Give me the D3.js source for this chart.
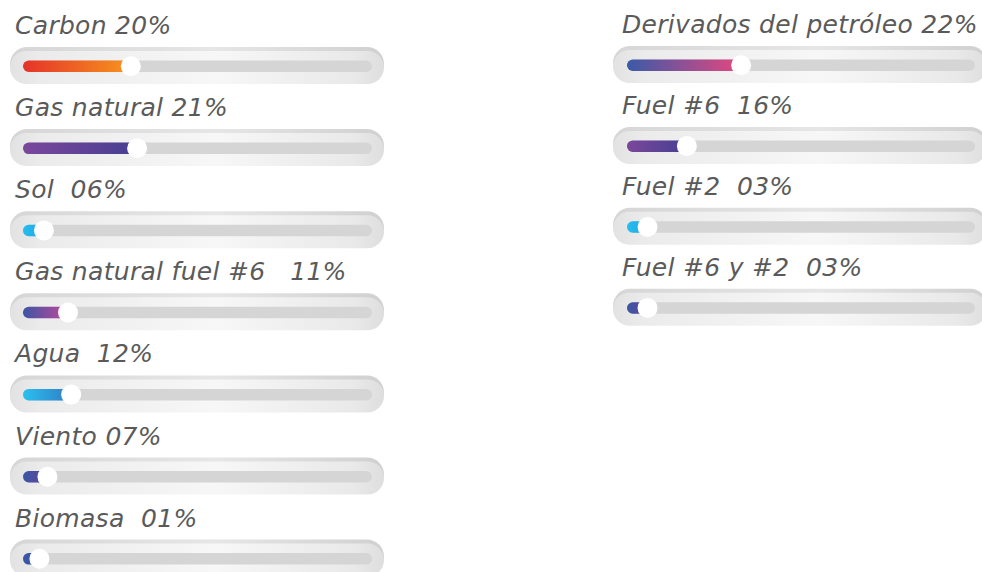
<!DOCTYPE html>
<html><head><meta charset="utf-8">
<script src="https://cdn.jsdelivr.net/npm/d3@7"></script>
<style>html,body{margin:0;padding:0;background:#fff;}svg{display:block;}</style>
</head><body>
<script>
// ---- data ----
const leftNames  = ["Carbon 20%", "Gas natural 21%", "Sol  06%", "Gas natural fuel #6   11%", "Agua  12%", "Viento 07%", "Biomasa  01%"];
const leftLevels = [30.9, 32.7, 6.0, 12.9, 13.8, 7.0, 4.7];   // bar level, % of track
const leftColors = [["#e5332a","#f7941d"],["#7b479b","#463f92"],["#27bdf0","#1fa6e0"],["#3d55a5","#c2479b"],["#2bc0f0","#2f7cc4"],["#3c55a5","#5f449b"],["#3b55a6","#3b55a6"]];

const rightNames  = ["Derivados del petróleo 22%", "Fuel #6  16%", "Fuel #2  03%", "Fuel #6 y #2  03%"];
const rightLevels = [32.8, 17.2, 5.9, 5.9];
const rightColors = [["#3a5aa8","#e5477f"],["#7b479b","#463f92"],["#27bdf0","#1fa6e0"],["#3c55a5","#5f449b"]];

const W = 982, H = 572;
const svg = d3.select("body").append("svg").attr("width", W).attr("height", H);
const defs = svg.append("defs");

const pillGrad = defs.append("linearGradient").attr("id","pillBody").attr("x1","0").attr("x2","1").attr("y1","0").attr("y2","0");
[["0%","#e2e2e2"],["8%","#ebebeb"],["55%","#f7f7f7"],["92%","#e9e9e9"],["100%","#dedede"]].forEach(s=>pillGrad.append("stop").attr("offset",s[0]).attr("stop-color",s[1]));
const rimGrad = defs.append("linearGradient").attr("id","pillRim").attr("x1","0").attr("x2","1").attr("y1","0").attr("y2","0");
[["0%","#d6d6d6"],["55%","#e6e6e6"],["100%","#d0d0d0"]].forEach(s=>rimGrad.append("stop").attr("offset",s[0]).attr("stop-color",s[1]));

function column(names, levels, colors, cfg, id) {
  const x = d3.scaleLinear().domain([0, 100]).range([cfg.t0, cfg.t1]);
  const y = d3.scalePoint().domain(d3.range(names.length)).range([cfg.y0, cfg.y0 + cfg.step * (names.length - 1)]);
  const data = names.map((n, i) => ({name: n, level: levels[i], colors: colors[i], i}));

  data.forEach(d => {
    const g = defs.append("linearGradient").attr("id", id + d.i).attr("gradientUnits","userSpaceOnUse")
      .attr("x1", x(0)).attr("x2", x(d.level)).attr("y1",0).attr("y2",0);
    g.append("stop").attr("offset","0%").attr("stop-color", d.colors[0]);
    g.append("stop").attr("offset","100%").attr("stop-color", d.colors[1]);
  });

  const row = svg.append("g").selectAll("g").data(data).join("g")
    .attr("transform", d => `translate(0,${y(d.i)})`);

  row.append("text").attr("x", cfg.lx).attr("y", -32)
    .attr("font-family", "'DejaVu Sans', sans-serif").attr("font-style","italic")
    .attr("font-size", 25).attr("letter-spacing", 0.3).attr("fill", "#5a5a5a")
    .attr("xml:space","preserve").style("white-space","pre")
    .text(d => d.name);

  // outer pill: rim + body
  row.append("rect").attr("x", cfg.o0).attr("y", -19).attr("width", cfg.o1 - cfg.o0).attr("height", 34)
    .attr("rx", 17).attr("fill", "url(#pillRim)");
  row.append("rect").attr("x", cfg.o0).attr("y", -15).attr("width", cfg.o1 - cfg.o0).attr("height", 33)
    .attr("rx", 16.5).attr("fill", "url(#pillBody)");
  // inner track
  row.append("rect").attr("x", x(0)).attr("y", -5.5).attr("width", x(100) - x(0)).attr("height", 11.5)
    .attr("rx", 5.75).attr("fill", "#d5d5d5");
  // fill
  row.append("rect").attr("x", x(0)).attr("y", -5.5).attr("width", d => x(d.level) - x(0)).attr("height", 11.5)
    .attr("rx", 5.75).attr("fill", d => `url(#${id}${d.i})`);
  // knob
  row.append("circle").attr("cx", d => x(d.level)).attr("cy", 0.2).attr("r", 10).attr("fill", "#fff");
}

column(leftNames, leftLevels, leftColors, {t0: 23, t1: 372, o0: 10, o1: 384, lx: 15, y0: 66, step: 82.1}, "lg");
column(rightNames, rightLevels, rightColors, {t0: 627, t1: 975, o0: 613, o1: 987, lx: 622, y0: 65, step: 80.9}, "rg");
</script>
</body></html>
